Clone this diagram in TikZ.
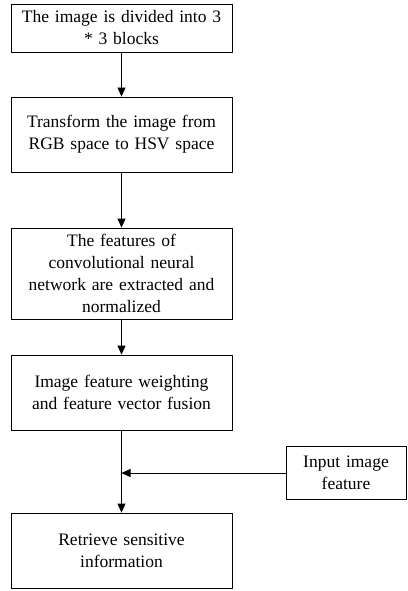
\documentclass[tikz,border=0pt]{standalone}
\usepackage{fontspec}
\setmainfont{Liberation Serif}
\usetikzlibrary{arrows.meta}

\begin{document}
\begin{tikzpicture}[x=1pt,y=-1pt,font=\fontsize{17.5}{22}\selectfont,
    stepbox/.style={draw,line width=.8pt,minimum width=221pt,text width=215pt,align=center,inner sep=0pt},
    flow/.style={-{Triangle[length=9pt,width=8pt]},line width=.8pt}]
    \useasboundingbox (0,0) rectangle (407,591);
    \node[stepbox,minimum height=48pt] (b1) at (121.5,28) {The image is divided into 3\\ {*} 3 blocks};
    \node[stepbox,minimum height=75pt] (b2) at (121.5,134.5) {Transform the image from\\ RGB space to HSV space};
    \node[stepbox,minimum height=91pt] (b3) at (121.5,273.5) {The features of\\ convolutional neural\\ network are extracted and\\ normalized};
    \node[stepbox,minimum height=75pt] (b4) at (121.5,392.5) {Image feature weighting\\ and feature vector fusion};
    \node[stepbox,minimum height=75pt] (b6) at (121.5,550.5) {Retrieve sensitive\\ information};
    \node[draw,line width=.8pt,minimum width=120pt,minimum height=53pt,text width=115pt,align=center,inner sep=0pt] (b5) at (346,473) {Input image\\ feature};
    \coordinate (j) at (121.5,473);
    \draw[flow] (b1) -- (b2);
    \draw[flow] (b2) -- (b3);
    \draw[flow] (b3) -- (b4);
    \draw[flow] (b4) -- (b6);
    \draw[flow] (b5) -- (j);
  \end{tikzpicture}
\end{document}
